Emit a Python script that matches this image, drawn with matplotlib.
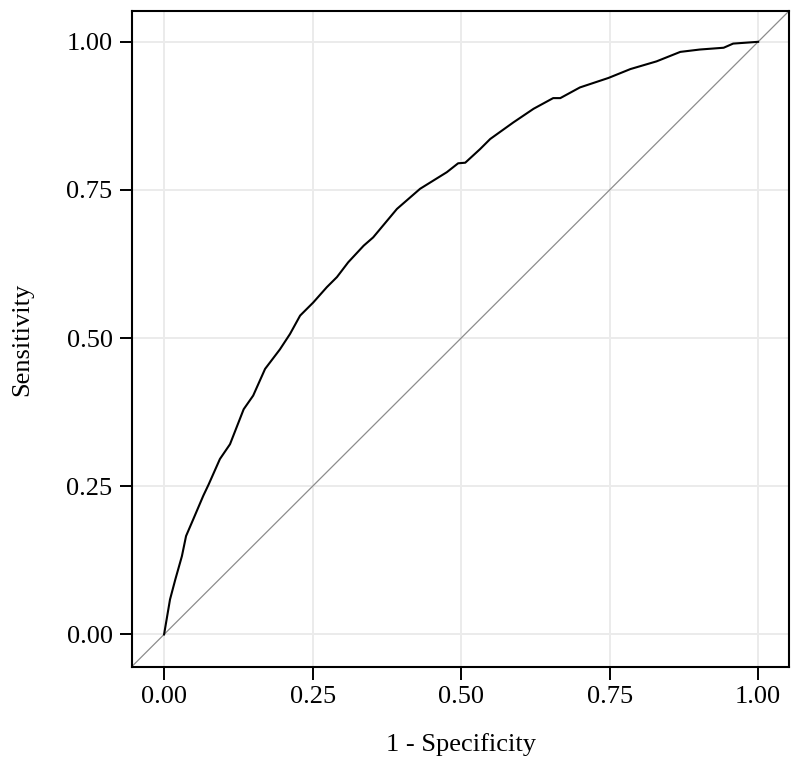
import matplotlib
matplotlib.use("Agg")
import matplotlib.pyplot as plt

fpr = [0.000, 0.010, 0.019, 0.030, 0.037, 0.049, 0.066, 0.075, 0.094, 0.111,
       0.134, 0.150, 0.170, 0.195, 0.212, 0.229, 0.251, 0.274, 0.291, 0.310,
       0.336, 0.352, 0.392, 0.431, 0.476, 0.495, 0.507, 0.532, 0.549, 0.588,
       0.622, 0.655, 0.667, 0.700, 0.748, 0.785, 0.829, 0.869, 0.902, 0.942,
       0.958, 1.000]
tpr = [0.000, 0.059, 0.093, 0.132, 0.166, 0.194, 0.234, 0.253, 0.296, 0.321,
       0.380, 0.403, 0.448, 0.481, 0.507, 0.538, 0.560, 0.586, 0.603, 0.628,
       0.656, 0.670, 0.718, 0.752, 0.780, 0.795, 0.796, 0.819, 0.836, 0.864,
       0.887, 0.905, 0.905, 0.923, 0.939, 0.954, 0.967, 0.983, 0.987, 0.990,
       0.997, 1.000]
ticks = [0.0, 0.25, 0.5, 0.75, 1.0]
tick_labels = ["0.00", "0.25", "0.50", "0.75", "1.00"]

plt.rcParams['font.family'] = ['Liberation Serif', 'DejaVu Serif']

W, H = 800, 778
fig = plt.figure(figsize=(W / 100, H / 100), dpi=100)
ax = fig.add_axes([132 / W, 1 - 667 / H, 657 / W, (667 - 11) / H])

ax.set_xlim(-0.054, 1.052)
ax.set_ylim(-0.055, 1.052)

ax.set_xticks(ticks)
ax.set_yticks(ticks)
ax.set_xticklabels(tick_labels)
ax.set_yticklabels(tick_labels)
ax.grid(True, color='#EBEBEB', linewidth=1.4)
ax.set_axisbelow(True)

# diagonal reference line across the full panel
ax.plot([-0.1, 1.1], [-0.1, 1.1], color='#8c8c8c', linewidth=0.9, zorder=2)
ax.plot(fpr, tpr, color='black', linewidth=1.5, zorder=3)

for s in ax.spines.values():
    s.set_linewidth(1.5)
    s.set_color('black')

ax.tick_params(axis='both', direction='out', length=9, width=1.4,
               labelsize=19, pad=5, colors='black')
ax.set_xlabel('1 - Specificity', fontsize=19, labelpad=18)
ax.set_ylabel('Sensitivity', fontsize=19, labelpad=24)

fig.savefig('out.png', dpi=100)
